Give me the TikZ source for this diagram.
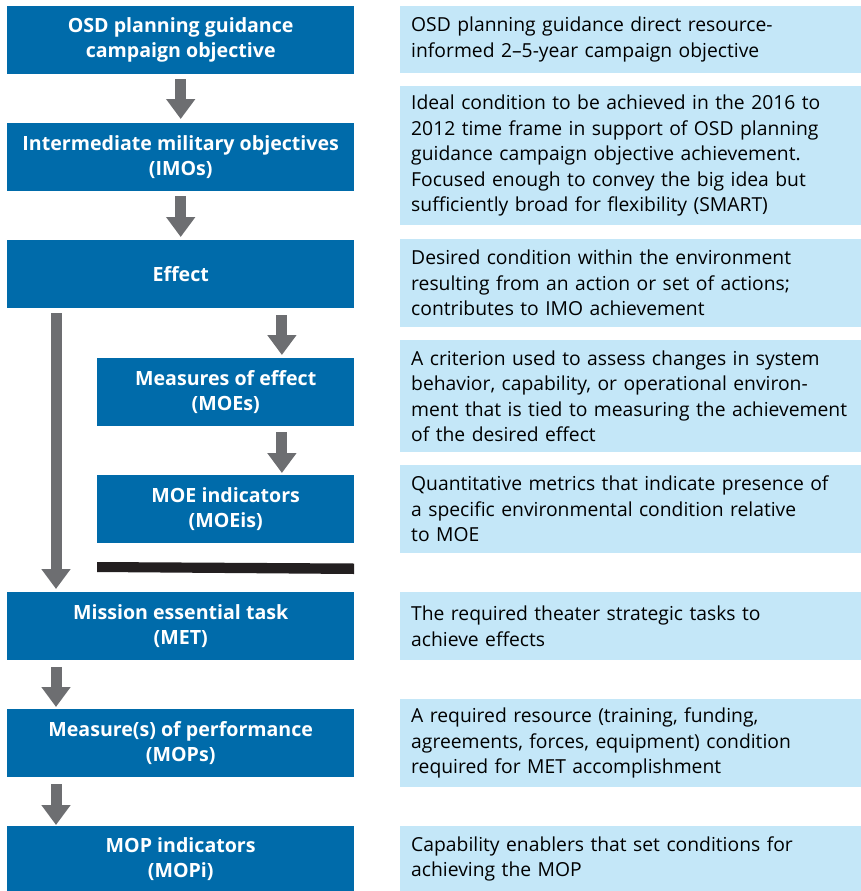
\documentclass[tikz,border=0pt]{standalone}
\usepackage{fontspec}
\setmainfont{Open Sans}
\usetikzlibrary{arrows.meta,positioning}
\definecolor{randblue}{HTML}{006BAA}
\definecolor{lightblue}{HTML}{C4E7F8}
\definecolor{arrgray}{HTML}{6D6E71}
\definecolor{barblack}{HTML}{231F20}
\tikzset{
  lbox/.style={rectangle, fill=randblue, text=white, inner sep=0pt, anchor=north west,
    font=\fontsize{19.6}{25}\selectfont\bfseries, align=center},
  rbox/.style={rectangle, fill=lightblue, text=black, inner xsep=11pt, inner ysep=0pt, anchor=north west,
    minimum width=461pt, text width=439pt, font=\fontsize{19.3}{25.5}\selectfont, align=left},
  arr/.style={draw=arrgray, line width=11pt, -{Triangle[width=28pt,length=20pt]}},
}
\begin{document}
\begin{tikzpicture}[x=1pt,y=-1pt]
\useasboundingbox (0,0) rectangle (861,891);
% left column
\node[lbox, minimum width=347pt, minimum height=68pt] (osd) at (7,6) {OSD planning guidance\\campaign objective};
\node[lbox, minimum width=347pt, minimum height=68pt] (imo) at (7,123) {Intermediate military objectives\\(IMOs)};
\node[lbox, minimum width=347pt, minimum height=68pt] (eff) at (7,240) {Effect};
\node[lbox, minimum width=257pt, minimum height=68pt] (moe) at (97,358) {Measures of effect\\(MOEs)};
\node[lbox, minimum width=257pt, minimum height=68pt] (moei) at (97,475) {MOE indicators\\(MOEis)};
\node[lbox, minimum width=347pt, minimum height=68pt] (met) at (7,592) {Mission essential task\\(MET)};
\node[lbox, minimum width=347pt, minimum height=68pt] (mop) at (7,709) {Measure(s) of performance\\(MOPs)};
\node[lbox, minimum width=347pt, minimum height=65pt] (mopi) at (7,826) {MOP indicators\\(MOPi)};
% black bar
\fill[barblack] (97,562) -- (354,563.5) -- (354,574) -- (97,572) -- cycle;
% arrows
\draw[arr, shorten <=5pt, shorten >=4pt] (osd.south) -- (imo.north);
\draw[arr, shorten <=5pt, shorten >=3pt] (imo.south) -- (eff.north);
\draw[arr, shorten <=5pt, shorten >=3pt] ([xshift=49pt]eff.south west) -- ([xshift=49pt]met.north west);
\draw[arr, shorten <=7pt, shorten >=3pt] ([xshift=-72.5pt]eff.south east) -- ([xshift=-72.5pt]moe.north east);
\draw[arr, shorten <=6pt, shorten >=2pt] ([xshift=-72.5pt]moe.south east) -- ([xshift=-72.5pt]moei.north east);
\draw[arr, shorten <=7pt, shorten >=2pt] ([xshift=49pt]met.south west) -- ([xshift=49pt]mop.north west);
\draw[arr, shorten <=7pt, shorten >=1pt] ([xshift=49pt]mop.south west) -- ([xshift=49pt]mopi.north west);
% right column
\node[rbox, minimum height=67pt] (d1) at (400,6) {OSD planning guidance direct resource-\\informed 2--5-year campaign objective};
\node[rbox, minimum height=139pt] (d2) at (400,86) {Ideal condition to be achieved in the 2016 to\\2012 time frame in support of OSD planning\\guidance campaign objective achievement.\\Focused enough to convey the big idea but\\sufficiently broad for flexibility (SMART)};
\node[rbox, minimum height=88pt] (d3) at (400,239) {Desired condition within the environment\\resulting from an action or set of actions;\\contributes to IMO achievement};
\node[rbox, minimum height=112pt] (d4) at (400,340) {A criterion used to assess changes in system\\behavior, capability, or operational environ-\\ment that is tied to measuring the achievement\\of the desired effect};
\node[rbox, minimum height=88pt] (d5) at (400,465) {Quantitative metrics that indicate presence of\\a specific environmental condition relative\\to MOE};
\node[rbox, minimum height=68pt] (d6) at (400,592) {The required theater strategic tasks to\\achieve effects};
\node[rbox, minimum height=88pt] (d7) at (400,699) {A required resource (training, funding,\\agreements, forces, equipment) condition\\required for MET accomplishment};
\node[rbox, minimum height=65pt] (d8) at (400,826) {Capability enablers that set conditions for\\achieving the MOP};
\end{tikzpicture}
\end{document}
